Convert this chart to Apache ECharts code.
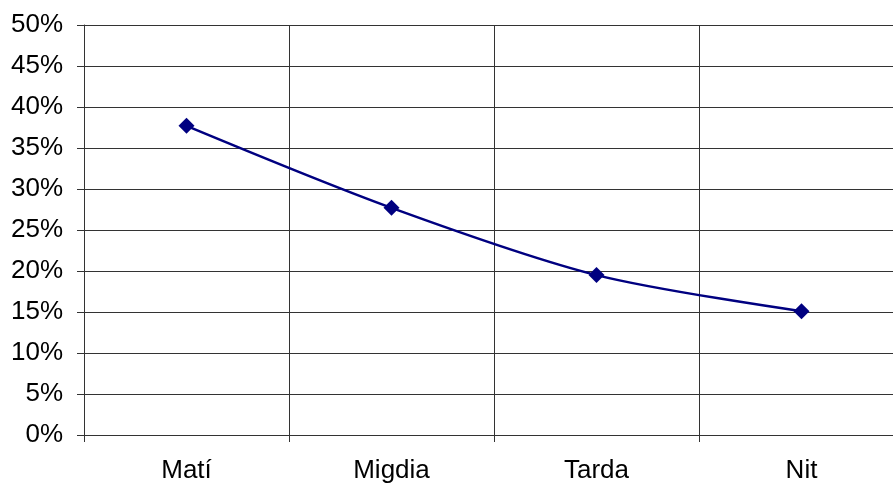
<!DOCTYPE html>
<html>
<head>
<meta charset="utf-8">
<script src="https://cdn.jsdelivr.net/npm/echarts@6/dist/echarts.min.js"></script>
<style>
  html, body { margin: 0; padding: 0; background: #fff; }
  #chart { width: 893px; height: 486px; }
</style>
</head>
<body>
<div id="chart"></div>
<script>
var categories = ['Matí', 'Migdia', 'Tarda', 'Nit'];
var values = [0.377, 0.277, 0.195, 0.151];

var myChart = echarts.init(document.getElementById('chart'));
var option = {
    animation: false,
    textStyle: { fontFamily: 'Liberation Sans, Arial, sans-serif' },
    grid: { left: 84, width: 820, top: 25, height: 410, outerBoundsMode: 'none' },
    xAxis: {
        type: 'category',
        data: categories,
        boundaryGap: true,
        axisLine: { lineStyle: { color: '#333', width: 1 } },
        axisTick: { show: true, length: 7, lineStyle: { color: '#333' } },
        axisLabel: { color: '#000', fontSize: 26, margin: 23 },
        splitLine: { show: true, lineStyle: { color: '#333', width: 1 } }
    },
    yAxis: {
        type: 'value',
        min: 0,
        max: 0.5,
        interval: 0.05,
        axisLine: { show: true, lineStyle: { color: '#333', width: 1 } },
        axisTick: { show: true, length: 7, lineStyle: { color: '#333' } },
        axisLabel: {
            color: '#000',
            fontSize: 26,
            margin: 21,
            formatter: function (v) { return Math.round(v * 100) + '%'; }
        },
        splitLine: { show: true, lineStyle: { color: '#333', width: 1 } }
    },
    series: [{
        type: 'line',
        data: values,
        smooth: 0.3,
        symbol: 'diamond',
        symbolSize: 16,
        itemStyle: { color: '#000080' },
        lineStyle: { color: '#000080', width: 2.5 }
    }]
};
myChart.setOption(option);
</script>
</body>
</html>
